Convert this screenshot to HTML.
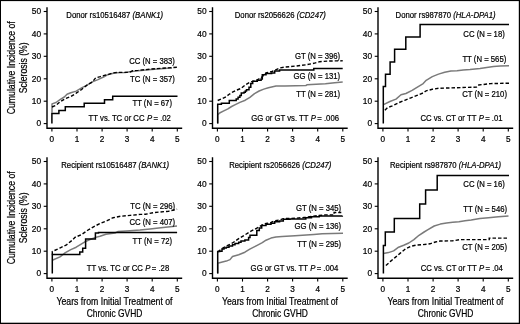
<!DOCTYPE html>
<html><head><meta charset="utf-8"><style>
html,body{margin:0;padding:0;background:#fff;}
body{width:520px;height:324px;overflow:hidden;}
svg{display:block;filter:grayscale(1);}
text{font-family:"Liberation Sans",sans-serif;fill:#000;stroke:#000;stroke-width:0.22px;}
.lb{font-size:8.9px;}
.yt{font-size:9.2px;text-anchor:end;}
.xt{font-size:8.2px;text-anchor:middle;}
.at{font-size:10.4px;}
.bk{fill:none;stroke:#000;stroke-width:1.5;stroke-linejoin:miter;}
.gy{fill:none;stroke:#7a7a7a;stroke-width:1.5;stroke-linejoin:round;}
.ds{fill:none;stroke:#000;stroke-width:1.4;stroke-dasharray:3.5 2;}
</style></head><body>
<svg width="520" height="324" viewBox="0 0 520 324">
<rect x="0" y="0" width="520" height="324" fill="#fff"/>
<rect x="0" y="0" width="520" height="1.1" fill="#000"/>
<rect x="0" y="0" width="1" height="324" fill="#000"/>
<rect x="518.8" y="0" width="1.2" height="324" fill="#000"/>
<rect x="0" y="322.7" width="520" height="1.3" fill="#000"/>
<path d="M47.0,7.2V128.3H182.2" fill="none" stroke="#000" stroke-width="1.4"/>
<path d="M43.7,123.6H47.0" stroke="#000" stroke-width="1.1"/>
<g transform="translate(41.1,126.4) scale(0.91,1)"><text x="0" y="0" class="yt">0</text></g>
<path d="M43.7,101.2H47.0" stroke="#000" stroke-width="1.1"/>
<g transform="translate(41.1,104.0) scale(0.91,1)"><text x="0" y="0" class="yt">10</text></g>
<path d="M43.7,78.8H47.0" stroke="#000" stroke-width="1.1"/>
<g transform="translate(41.1,81.6) scale(0.91,1)"><text x="0" y="0" class="yt">20</text></g>
<path d="M43.7,56.3H47.0" stroke="#000" stroke-width="1.1"/>
<g transform="translate(41.1,59.1) scale(0.91,1)"><text x="0" y="0" class="yt">30</text></g>
<path d="M43.7,33.9H47.0" stroke="#000" stroke-width="1.1"/>
<g transform="translate(41.1,36.7) scale(0.91,1)"><text x="0" y="0" class="yt">40</text></g>
<path d="M43.7,11.5H47.0" stroke="#000" stroke-width="1.1"/>
<g transform="translate(41.1,14.3) scale(0.91,1)"><text x="0" y="0" class="yt">50</text></g>
<path d="M51.9,128.3V131.6" stroke="#000" stroke-width="1.1"/>
<text x="51.9" y="141.6" class="xt">0</text>
<path d="M77.0,128.3V131.6" stroke="#000" stroke-width="1.1"/>
<text x="77.0" y="141.6" class="xt">1</text>
<path d="M102.1,128.3V131.6" stroke="#000" stroke-width="1.1"/>
<text x="102.1" y="141.6" class="xt">2</text>
<path d="M127.1,128.3V131.6" stroke="#000" stroke-width="1.1"/>
<text x="127.1" y="141.6" class="xt">3</text>
<path d="M152.2,128.3V131.6" stroke="#000" stroke-width="1.1"/>
<text x="152.2" y="141.6" class="xt">4</text>
<path d="M177.3,128.3V131.6" stroke="#000" stroke-width="1.1"/>
<text x="177.3" y="141.6" class="xt">5</text>
<path d="M212.5,7.2V128.3H347.7" fill="none" stroke="#000" stroke-width="1.4"/>
<path d="M209.2,123.6H212.5" stroke="#000" stroke-width="1.1"/>
<g transform="translate(206.6,126.4) scale(0.91,1)"><text x="0" y="0" class="yt">0</text></g>
<path d="M209.2,101.2H212.5" stroke="#000" stroke-width="1.1"/>
<g transform="translate(206.6,104.0) scale(0.91,1)"><text x="0" y="0" class="yt">10</text></g>
<path d="M209.2,78.8H212.5" stroke="#000" stroke-width="1.1"/>
<g transform="translate(206.6,81.6) scale(0.91,1)"><text x="0" y="0" class="yt">20</text></g>
<path d="M209.2,56.3H212.5" stroke="#000" stroke-width="1.1"/>
<g transform="translate(206.6,59.1) scale(0.91,1)"><text x="0" y="0" class="yt">30</text></g>
<path d="M209.2,33.9H212.5" stroke="#000" stroke-width="1.1"/>
<g transform="translate(206.6,36.7) scale(0.91,1)"><text x="0" y="0" class="yt">40</text></g>
<path d="M209.2,11.5H212.5" stroke="#000" stroke-width="1.1"/>
<g transform="translate(206.6,14.3) scale(0.91,1)"><text x="0" y="0" class="yt">50</text></g>
<path d="M217.4,128.3V131.6" stroke="#000" stroke-width="1.1"/>
<text x="217.4" y="141.6" class="xt">0</text>
<path d="M242.5,128.3V131.6" stroke="#000" stroke-width="1.1"/>
<text x="242.5" y="141.6" class="xt">1</text>
<path d="M267.6,128.3V131.6" stroke="#000" stroke-width="1.1"/>
<text x="267.6" y="141.6" class="xt">2</text>
<path d="M292.6,128.3V131.6" stroke="#000" stroke-width="1.1"/>
<text x="292.6" y="141.6" class="xt">3</text>
<path d="M317.7,128.3V131.6" stroke="#000" stroke-width="1.1"/>
<text x="317.7" y="141.6" class="xt">4</text>
<path d="M342.8,128.3V131.6" stroke="#000" stroke-width="1.1"/>
<text x="342.8" y="141.6" class="xt">5</text>
<path d="M378.0,7.2V128.3H513.2" fill="none" stroke="#000" stroke-width="1.4"/>
<path d="M374.7,123.6H378.0" stroke="#000" stroke-width="1.1"/>
<g transform="translate(372.1,126.4) scale(0.91,1)"><text x="0" y="0" class="yt">0</text></g>
<path d="M374.7,101.2H378.0" stroke="#000" stroke-width="1.1"/>
<g transform="translate(372.1,104.0) scale(0.91,1)"><text x="0" y="0" class="yt">10</text></g>
<path d="M374.7,78.8H378.0" stroke="#000" stroke-width="1.1"/>
<g transform="translate(372.1,81.6) scale(0.91,1)"><text x="0" y="0" class="yt">20</text></g>
<path d="M374.7,56.3H378.0" stroke="#000" stroke-width="1.1"/>
<g transform="translate(372.1,59.1) scale(0.91,1)"><text x="0" y="0" class="yt">30</text></g>
<path d="M374.7,33.9H378.0" stroke="#000" stroke-width="1.1"/>
<g transform="translate(372.1,36.7) scale(0.91,1)"><text x="0" y="0" class="yt">40</text></g>
<path d="M374.7,11.5H378.0" stroke="#000" stroke-width="1.1"/>
<g transform="translate(372.1,14.3) scale(0.91,1)"><text x="0" y="0" class="yt">50</text></g>
<path d="M382.9,128.3V131.6" stroke="#000" stroke-width="1.1"/>
<text x="382.9" y="141.6" class="xt">0</text>
<path d="M408.0,128.3V131.6" stroke="#000" stroke-width="1.1"/>
<text x="408.0" y="141.6" class="xt">1</text>
<path d="M433.1,128.3V131.6" stroke="#000" stroke-width="1.1"/>
<text x="433.1" y="141.6" class="xt">2</text>
<path d="M458.1,128.3V131.6" stroke="#000" stroke-width="1.1"/>
<text x="458.1" y="141.6" class="xt">3</text>
<path d="M483.2,128.3V131.6" stroke="#000" stroke-width="1.1"/>
<text x="483.2" y="141.6" class="xt">4</text>
<path d="M508.3,128.3V131.6" stroke="#000" stroke-width="1.1"/>
<text x="508.3" y="141.6" class="xt">5</text>
<path d="M47.0,157.2V278.3H182.2" fill="none" stroke="#000" stroke-width="1.4"/>
<path d="M43.7,273.6H47.0" stroke="#000" stroke-width="1.1"/>
<g transform="translate(41.1,276.4) scale(0.91,1)"><text x="0" y="0" class="yt">0</text></g>
<path d="M43.7,251.2H47.0" stroke="#000" stroke-width="1.1"/>
<g transform="translate(41.1,254.0) scale(0.91,1)"><text x="0" y="0" class="yt">10</text></g>
<path d="M43.7,228.8H47.0" stroke="#000" stroke-width="1.1"/>
<g transform="translate(41.1,231.6) scale(0.91,1)"><text x="0" y="0" class="yt">20</text></g>
<path d="M43.7,206.3H47.0" stroke="#000" stroke-width="1.1"/>
<g transform="translate(41.1,209.1) scale(0.91,1)"><text x="0" y="0" class="yt">30</text></g>
<path d="M43.7,183.9H47.0" stroke="#000" stroke-width="1.1"/>
<g transform="translate(41.1,186.7) scale(0.91,1)"><text x="0" y="0" class="yt">40</text></g>
<path d="M43.7,161.5H47.0" stroke="#000" stroke-width="1.1"/>
<g transform="translate(41.1,164.3) scale(0.91,1)"><text x="0" y="0" class="yt">50</text></g>
<path d="M51.9,278.3V281.6" stroke="#000" stroke-width="1.1"/>
<text x="51.9" y="291.6" class="xt">0</text>
<path d="M77.0,278.3V281.6" stroke="#000" stroke-width="1.1"/>
<text x="77.0" y="291.6" class="xt">1</text>
<path d="M102.1,278.3V281.6" stroke="#000" stroke-width="1.1"/>
<text x="102.1" y="291.6" class="xt">2</text>
<path d="M127.1,278.3V281.6" stroke="#000" stroke-width="1.1"/>
<text x="127.1" y="291.6" class="xt">3</text>
<path d="M152.2,278.3V281.6" stroke="#000" stroke-width="1.1"/>
<text x="152.2" y="291.6" class="xt">4</text>
<path d="M177.3,278.3V281.6" stroke="#000" stroke-width="1.1"/>
<text x="177.3" y="291.6" class="xt">5</text>
<path d="M212.5,157.2V278.3H347.7" fill="none" stroke="#000" stroke-width="1.4"/>
<path d="M209.2,273.6H212.5" stroke="#000" stroke-width="1.1"/>
<g transform="translate(206.6,276.4) scale(0.91,1)"><text x="0" y="0" class="yt">0</text></g>
<path d="M209.2,251.2H212.5" stroke="#000" stroke-width="1.1"/>
<g transform="translate(206.6,254.0) scale(0.91,1)"><text x="0" y="0" class="yt">10</text></g>
<path d="M209.2,228.8H212.5" stroke="#000" stroke-width="1.1"/>
<g transform="translate(206.6,231.6) scale(0.91,1)"><text x="0" y="0" class="yt">20</text></g>
<path d="M209.2,206.3H212.5" stroke="#000" stroke-width="1.1"/>
<g transform="translate(206.6,209.1) scale(0.91,1)"><text x="0" y="0" class="yt">30</text></g>
<path d="M209.2,183.9H212.5" stroke="#000" stroke-width="1.1"/>
<g transform="translate(206.6,186.7) scale(0.91,1)"><text x="0" y="0" class="yt">40</text></g>
<path d="M209.2,161.5H212.5" stroke="#000" stroke-width="1.1"/>
<g transform="translate(206.6,164.3) scale(0.91,1)"><text x="0" y="0" class="yt">50</text></g>
<path d="M217.4,278.3V281.6" stroke="#000" stroke-width="1.1"/>
<text x="217.4" y="291.6" class="xt">0</text>
<path d="M242.5,278.3V281.6" stroke="#000" stroke-width="1.1"/>
<text x="242.5" y="291.6" class="xt">1</text>
<path d="M267.6,278.3V281.6" stroke="#000" stroke-width="1.1"/>
<text x="267.6" y="291.6" class="xt">2</text>
<path d="M292.6,278.3V281.6" stroke="#000" stroke-width="1.1"/>
<text x="292.6" y="291.6" class="xt">3</text>
<path d="M317.7,278.3V281.6" stroke="#000" stroke-width="1.1"/>
<text x="317.7" y="291.6" class="xt">4</text>
<path d="M342.8,278.3V281.6" stroke="#000" stroke-width="1.1"/>
<text x="342.8" y="291.6" class="xt">5</text>
<path d="M378.0,157.2V278.3H513.2" fill="none" stroke="#000" stroke-width="1.4"/>
<path d="M374.7,273.6H378.0" stroke="#000" stroke-width="1.1"/>
<g transform="translate(372.1,276.4) scale(0.91,1)"><text x="0" y="0" class="yt">0</text></g>
<path d="M374.7,251.2H378.0" stroke="#000" stroke-width="1.1"/>
<g transform="translate(372.1,254.0) scale(0.91,1)"><text x="0" y="0" class="yt">10</text></g>
<path d="M374.7,228.8H378.0" stroke="#000" stroke-width="1.1"/>
<g transform="translate(372.1,231.6) scale(0.91,1)"><text x="0" y="0" class="yt">20</text></g>
<path d="M374.7,206.3H378.0" stroke="#000" stroke-width="1.1"/>
<g transform="translate(372.1,209.1) scale(0.91,1)"><text x="0" y="0" class="yt">30</text></g>
<path d="M374.7,183.9H378.0" stroke="#000" stroke-width="1.1"/>
<g transform="translate(372.1,186.7) scale(0.91,1)"><text x="0" y="0" class="yt">40</text></g>
<path d="M374.7,161.5H378.0" stroke="#000" stroke-width="1.1"/>
<g transform="translate(372.1,164.3) scale(0.91,1)"><text x="0" y="0" class="yt">50</text></g>
<path d="M382.9,278.3V281.6" stroke="#000" stroke-width="1.1"/>
<text x="382.9" y="291.6" class="xt">0</text>
<path d="M408.0,278.3V281.6" stroke="#000" stroke-width="1.1"/>
<text x="408.0" y="291.6" class="xt">1</text>
<path d="M433.1,278.3V281.6" stroke="#000" stroke-width="1.1"/>
<text x="433.1" y="291.6" class="xt">2</text>
<path d="M458.1,278.3V281.6" stroke="#000" stroke-width="1.1"/>
<text x="458.1" y="291.6" class="xt">3</text>
<path d="M483.2,278.3V281.6" stroke="#000" stroke-width="1.1"/>
<text x="483.2" y="291.6" class="xt">4</text>
<path d="M508.3,278.3V281.6" stroke="#000" stroke-width="1.1"/>
<text x="508.3" y="291.6" class="xt">5</text>
<path d="M51.9,123.6V113.5H58.9V110.4H65.3V106.7H84.2V103.2H104.5V99.8H112.7V96.3H177.5" class="bk"/>
<path d="M52.0,113.0 L52.0,103.9 L56.0,102.5 L60.0,99.7 L64.3,97.0 L67.0,94.3 L70.8,92.7 L76.2,91.1 L81.6,87.8 L87.0,85.1 L92.4,81.9 L98.0,79.6 L104.0,76.8 L108.2,74.4 L115.8,72.8 L125.0,72.5 L135.6,70.9 L151.5,69.4 L167.3,68.3 L172.0,67.9" class="gy"/>
<path d="M52.0,107.0 L56.0,105.3 L60.0,101.9 L65.4,98.6 L70.8,96.5 L76.2,93.2 L81.6,89.5 L87.0,85.1 L92.4,81.9 L95.7,77.8 L100.3,76.6 L104.2,75.4 L108.0,74.7 L111.9,73.1 L117.3,72.4 L128.9,72.4 L132.7,70.8 L138.0,70.4 L151.5,69.0 L167.3,67.9 L177.4,67.2" class="ds"/>
<path d="M217.7,123.6 L217.7,114.9 L219.6,113.0 L223.3,111.1 L227.9,108.8 L231.6,106.5 L235.3,104.7 L239.9,102.4 L245.3,100.2 L249.9,97.4 L254.5,93.7 L259.1,91.0 L263.8,89.1 L268.4,87.7 L276.0,85.9 L285.0,85.9 L305.8,85.6 L306.9,84.8 L325.4,83.8 L334.6,82.7 L342.7,82.1" class="gy"/>
<path d="M217.7,123.6H217.7V104.2H221.4V103.3H229.3V100.5H236.2V99.1H238.1V97.3H239.9V95.4H241.3V93.1H244.0V92.2H245.3V91.0H246.5V89.8H249.0V87.3H250.8V83.6H252.7V81.2H257.3V80.3H261.1V79.1H262.3V74.8H266.0V73.5H271.6V72.9H274.7V71.0H279.6V70.0H313.8V68.6H342.7V68.6" class="bk"/>
<path d="M217.7,100.5 L222.3,98.6 L226.0,96.8 L228.8,94.5 L232.5,92.2 L236.2,90.3 L240.9,88.5 L245.3,84.9 L249.9,82.2 L255.0,80.9 L261.0,78.0 L266.0,73.0 L272.0,71.5 L279.6,68.0 L285.0,67.1 L296.5,66.0 L305.8,64.8 L313.8,63.3 L319.6,61.7 L328.8,61.0 L342.7,60.8" class="ds"/>
<path d="M383.5,104.6 L389.9,101.5 L396.0,99.1 L401.0,94.8 L405.9,93.5 L412.1,90.4 L417.0,87.3 L423.2,83.6 L426.2,80.3 L432.3,76.6 L438.5,74.1 L444.7,72.3 L450.9,71.0 L457.0,70.8 L463.2,70.1 L470.0,69.6 L480.0,68.4 L486.7,67.4 L493.5,66.6 L500.2,66.1 L509.0,65.7" class="gy"/>
<path d="M384.9,110.2 L387.4,107.7 L392.3,105.9 L398.5,102.8 L404.7,100.3 L410.9,97.8 L417.0,95.4 L423.2,92.9 L426.2,90.8 L432.3,89.3 L438.5,88.3 L444.7,88.1 L457.0,87.7 L476.5,87.1 L478.7,85.0 L490.8,83.6 L509.0,83.2" class="ds"/>
<path d="M383.3,123.6V86.6H385.5V74.2H390.1V61.9H394.6V49.3H405.8V37H420.1V24.5H509" class="bk"/>
<path d="M52.3,260.2 L60.0,256.9 L65.4,252.6 L70.8,249.6 L76.2,247.2 L81.6,243.9 L84.9,241.8 L90.0,239.5 L95.7,237.4 L100.0,236.2 L105.9,234.2 L115.0,233.0 L117.8,231.6 L130.0,230.8 L140.0,230.1 L150.0,229.0 L160.9,227.7 L177.0,225.9" class="gy"/>
<path d="M52.3,273.4V254.4H79.8V252H82.7V248.2H85.6V239.1H95.4V233H98.5V232.4H177.1" class="bk"/>
<path d="M52.3,254.6 L52.3,251.5 L60.3,247.8 L66.5,244.8 L72.7,239.8 L75.0,237.3 L81.2,234.8 L87.3,230.5 L93.5,226.8 L99.7,223.7 L107.1,220.6 L113.1,217.7 L120.9,216.2 L130.1,215.4 L140.0,214.4 L145.4,214.3 L153.1,212.7 L168.6,211.2 L177.1,209.2" class="ds"/>
<path d="M217.7,273.4 L217.7,263.3 L221.4,262.3 L226.3,261.1 L230.0,259.6 L232.5,256.5 L238.7,254.7 L244.9,252.2 L249.8,249.1 L256.2,245.8 L262.3,242.7 L266.0,240.2 L271.0,238.1 L275.9,236.9 L282.1,236.5 L295.0,235.7 L313.7,234.4 L322.2,233.7 L343.0,233.2" class="gy"/>
<path d="M217.7,273.4H217.7V251.6H219.6V251.2H222.0V249.0H224.0V248.0H226.3V247.3H229.0V246.0H232.5V244.8H235.0V243.5H238.7V242.3H241.0V241.0H244.9V239.9H248.6V237.4H250.0V235.3H255.6V235.3H256.8V230.4H259.3V227.9H261.7V225.4H266.0V224.2H271.0V223.3H274.7V221.7H279.6V220.9H283.3V219.3H290.0V218.9H305.8V217.8H311.5V216.8H319.2V215.9H342.3V215.7" class="bk"/>
<path d="M217.7,252.0 L222.0,248.5 L226.3,246.0 L232.5,243.0 L238.7,238.6 L244.9,234.9 L251.0,231.2 L254.9,229.1 L258.6,227.3 L262.3,224.8 L266.0,223.5 L271.0,222.5 L274.7,220.8 L279.6,220.0 L283.3,218.6 L295.0,218.3 L305.8,217.3 L311.5,216.3 L325.0,214.9 L334.1,214.9 L334.1,212.5 L341.3,212.5" class="ds"/>
<path d="M383.4,253.6 L388.5,252.6 L393.6,250.9 L398.6,247.2 L403.7,245.2 L408.8,243.0 L413.9,239.6 L419.0,235.3 L424.1,232.0 L428.0,229.7 L434.2,226.0 L440.3,224.1 L446.5,222.9 L452.7,222.3 L458.9,221.7 L465.0,220.8 L471.2,220.1 L479.9,218.6 L488.5,217.7 L498.4,216.7 L508.5,215.9" class="gy"/>
<path d="M385.9,265.5 L390.2,261.6 L395.3,257.4 L400.3,253.1 L405.4,248.9 L410.5,246.4 L415.6,245.2 L422.4,244.7 L430.0,243.8 L435.4,242.0 L440.3,241.0 L452.7,240.8 L460.1,239.6 L489.2,239.6 L489.2,238.1 L508.5,238.1" class="ds"/>
<path d="M383.4,273.4V245.6H385.3V232H394.3V218.6H419.7V203.9H425.6V190H437.2V175.5H509" class="bk"/>
<g transform="translate(114.7,18.4) scale(0.87,1)"><text x="0" y="0" text-anchor="middle" class="lb">Donor rs10516487 <tspan font-style="italic">(BANK1)</tspan></text></g>
<g transform="translate(280.3,18.3) scale(0.87,1)"><text x="0" y="0" text-anchor="middle" class="lb">Donor rs2056626 <tspan font-style="italic">(CD247)</tspan></text></g>
<g transform="translate(445.6,18.3) scale(0.87,1)"><text x="0" y="0" text-anchor="middle" class="lb">Donor rs987870 <tspan font-style="italic">(HLA-DPA1)</tspan></text></g>
<g transform="translate(115.2,168.2) scale(0.87,1)"><text x="0" y="0" text-anchor="middle" class="lb">Recipient rs10516487 <tspan font-style="italic">(BANK1)</tspan></text></g>
<g transform="translate(280.3,168.2) scale(0.87,1)"><text x="0" y="0" text-anchor="middle" class="lb">Recipient rs2056626 <tspan font-style="italic">(CD247)</tspan></text></g>
<g transform="translate(445.6,168.2) scale(0.87,1)"><text x="0" y="0" text-anchor="middle" class="lb">Recipient rs987870 <tspan font-style="italic">(HLA-DPA1)</tspan></text></g>
<g transform="translate(174.9,64.1) scale(0.87,1)"><text x="0" y="0" text-anchor="end" class="lb">CC (N = 383)</text></g>
<g transform="translate(174.9,82.4) scale(0.87,1)"><text x="0" y="0" text-anchor="end" class="lb">TC (N = 357)</text></g>
<g transform="translate(172.0,105.8) scale(0.87,1)"><text x="0" y="0" text-anchor="end" class="lb">TT (N = 67)</text></g>
<g transform="translate(170.9,121.2) scale(0.87,1)"><text x="0" y="0" text-anchor="end" class="lb">TT vs. TC or CC <tspan font-style="italic" dx="0.3">P</tspan><tspan dx="-0.9"> = .02</tspan></text></g>
<g transform="translate(340.2,58.9) scale(0.87,1)"><text x="0" y="0" text-anchor="end" class="lb">GT (N = 396)</text></g>
<g transform="translate(340.2,79.2) scale(0.87,1)"><text x="0" y="0" text-anchor="end" class="lb">GG (N = 131)</text></g>
<g transform="translate(340.2,97.0) scale(0.87,1)"><text x="0" y="0" text-anchor="end" class="lb">TT (N = 281)</text></g>
<g transform="translate(339.0,121.1) scale(0.87,1)"><text x="0" y="0" text-anchor="end" class="lb">GG or GT vs. TT <tspan font-style="italic" dx="0.3">P</tspan><tspan dx="-0.9"> = .006</tspan></text></g>
<g transform="translate(504.8,36.5) scale(0.87,1)"><text x="0" y="0" text-anchor="end" class="lb">CC (N = 18)</text></g>
<g transform="translate(506.3,61.9) scale(0.87,1)"><text x="0" y="0" text-anchor="end" class="lb">TT (N = 565)</text></g>
<g transform="translate(507.0,96.7) scale(0.87,1)"><text x="0" y="0" text-anchor="end" class="lb">CT (N = 210)</text></g>
<g transform="translate(502.6,121.0) scale(0.87,1)"><text x="0" y="0" text-anchor="end" class="lb">CC vs. CT or TT <tspan font-style="italic" dx="0.3">P</tspan><tspan dx="-0.9"> = .01</tspan></text></g>
<g transform="translate(175.2,208.5) scale(0.87,1)"><text x="0" y="0" text-anchor="end" class="lb">TC (N = 296)</text></g>
<g transform="translate(175.2,225.0) scale(0.87,1)"><text x="0" y="0" text-anchor="end" class="lb">CC (N = 407)</text></g>
<g transform="translate(172.1,244.0) scale(0.87,1)"><text x="0" y="0" text-anchor="end" class="lb">TT (N = 72)</text></g>
<g transform="translate(169.2,271.0) scale(0.87,1)"><text x="0" y="0" text-anchor="end" class="lb">TT vs. TC or CC <tspan font-style="italic" dx="0.3">P</tspan><tspan dx="-0.9"> = .28</tspan></text></g>
<g transform="translate(341.2,211.2) scale(0.87,1)"><text x="0" y="0" text-anchor="end" class="lb">GT (N = 345)</text></g>
<g transform="translate(341.2,229.4) scale(0.87,1)"><text x="0" y="0" text-anchor="end" class="lb">GG (N = 136)</text></g>
<g transform="translate(341.2,247.2) scale(0.87,1)"><text x="0" y="0" text-anchor="end" class="lb">TT (N = 295)</text></g>
<g transform="translate(338.4,271.2) scale(0.87,1)"><text x="0" y="0" text-anchor="end" class="lb">GG or GT vs. TT <tspan font-style="italic" dx="0.3">P</tspan><tspan dx="-0.9"> = .004</tspan></text></g>
<g transform="translate(504.8,186.5) scale(0.87,1)"><text x="0" y="0" text-anchor="end" class="lb">CC (N = 16)</text></g>
<g transform="translate(507.1,212.0) scale(0.87,1)"><text x="0" y="0" text-anchor="end" class="lb">TT (N = 546)</text></g>
<g transform="translate(507.0,250.2) scale(0.87,1)"><text x="0" y="0" text-anchor="end" class="lb">CT (N = 205)</text></g>
<g transform="translate(502.9,271.0) scale(0.87,1)"><text x="0" y="0" text-anchor="end" class="lb">CC vs. CT or TT <tspan font-style="italic" dx="0.3">P</tspan><tspan dx="-0.9"> = .04</tspan></text></g>
<g transform="translate(14.6,67.8) rotate(-90) scale(0.84,1)"><text x="0" y="0" text-anchor="middle" class="at">Cumulative Incidence of</text></g>
<g transform="translate(26.8,67.8) rotate(-90) scale(0.83,1)"><text x="0" y="0" text-anchor="middle" class="at">Sclerosis (%)</text></g>
<g transform="translate(14.6,217.8) rotate(-90) scale(0.84,1)"><text x="0" y="0" text-anchor="middle" class="at">Cumulative Incidence of</text></g>
<g transform="translate(26.8,217.8) rotate(-90) scale(0.83,1)"><text x="0" y="0" text-anchor="middle" class="at">Sclerosis (%)</text></g>
<g transform="translate(114.5,304.8) scale(0.84,1)"><text x="0" y="0" text-anchor="middle" class="at">Years from Initial Treatment of</text></g>
<g transform="translate(114.5,316.9) scale(0.81,1)"><text x="0" y="0" text-anchor="middle" class="at">Chronic GVHD</text></g>
<g transform="translate(280.0,304.8) scale(0.84,1)"><text x="0" y="0" text-anchor="middle" class="at">Years from Initial Treatment of</text></g>
<g transform="translate(280.0,316.9) scale(0.81,1)"><text x="0" y="0" text-anchor="middle" class="at">Chronic GVHD</text></g>
<g transform="translate(445.5,304.8) scale(0.84,1)"><text x="0" y="0" text-anchor="middle" class="at">Years from Initial Treatment of</text></g>
<g transform="translate(445.5,316.9) scale(0.81,1)"><text x="0" y="0" text-anchor="middle" class="at">Chronic GVHD</text></g>
</svg>
</body></html>
